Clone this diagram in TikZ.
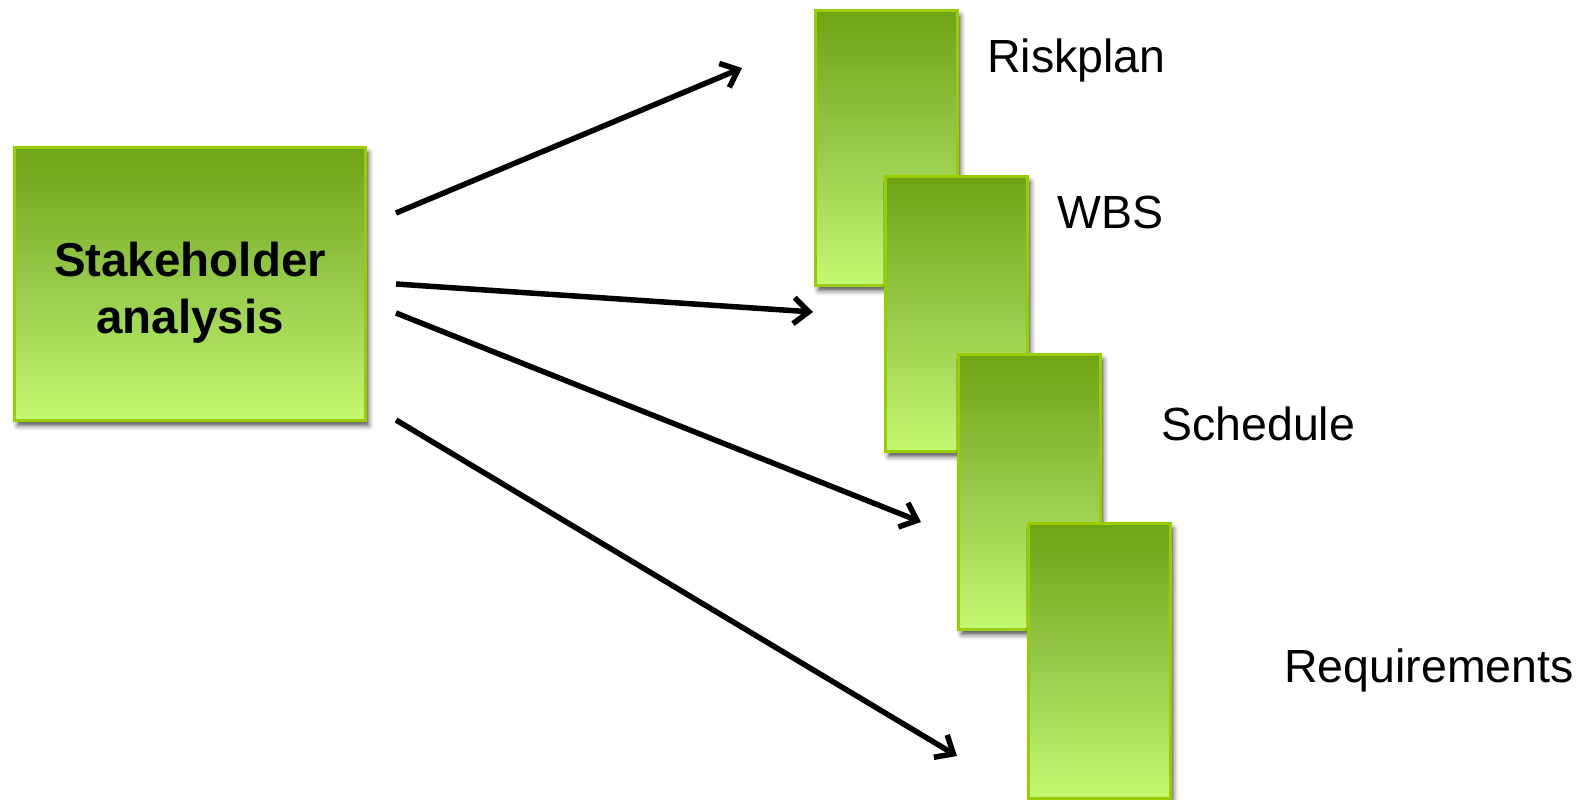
\documentclass[tikz,border=0pt]{standalone}
\usepackage{fontspec}
\setmainfont{Liberation Sans}
\usetikzlibrary{arrows.meta,shadows.blur}
\definecolor{gtop}{HTML}{6EA414}
\definecolor{gmid}{HTML}{96CA4A}
\definecolor{gbot}{HTML}{C3F970}
\definecolor{gedge}{HTML}{9ACD00}
\tikzset{
  greenbox/.style={draw=gedge, line width=3pt, top color=gtop, bottom color=gbot, middle color=gmid,
    blur shadow={shadow xshift=3pt, shadow yshift=-5pt, shadow blur radius=5pt, shadow opacity=70},
    inner sep=0pt, anchor=north west},
  tallbox/.style={greenbox, minimum width=142pt, minimum height=275pt},
  lbl/.style={anchor=base west, inner sep=0pt, font=\fontsize{46.5}{55}\selectfont},
  conn/.style={line width=5.5pt, -{Straight Barb[length=15pt,width=26pt,line width=5.5pt]}}
}
\begin{document}
\begin{tikzpicture}[x=1pt,y=-1pt]
\useasboundingbox (0,0) rectangle (1591,800);
\node[greenbox, minimum width=351pt, minimum height=273pt] (main) at (13,146) {};
\node[align=center, inner sep=0pt, font=\bfseries\fontsize{47.5}{57}\selectfont]
  (mtext) at ([yshift=-9pt]main.center) {Stakeholder\\analysis};
\node[tallbox] (b1) at (814,9) {};
\node[tallbox] (b2) at (884,175) {};
\node[tallbox] (b3) at (957,353) {};
\node[tallbox] (b4) at (1027,522) {};
\node[lbl] (l1) at (987,73) {Riskplan};
\node[lbl] (l2) at (1057,228) {WBS};
\node[lbl] (l3) at (1161,440) {Schedule};
\node[lbl] (l4) at (1284,682) {Requirements};
\coordinate (s1) at (396,213);
\coordinate (s2) at (396,284);
\coordinate (s3) at (396,313);
\coordinate (s4) at (396,420);
\coordinate (e1) at (742,68);
\coordinate (e2) at (813,312);
\coordinate (e3) at (921,522);
\coordinate (e4) at (957,756);
\draw[conn] (s1) -- (e1);
\draw[conn] (s2) -- (e2);
\draw[conn] (s3) -- (e3);
\draw[conn] (s4) -- (e4);
\end{tikzpicture}
\end{document}
